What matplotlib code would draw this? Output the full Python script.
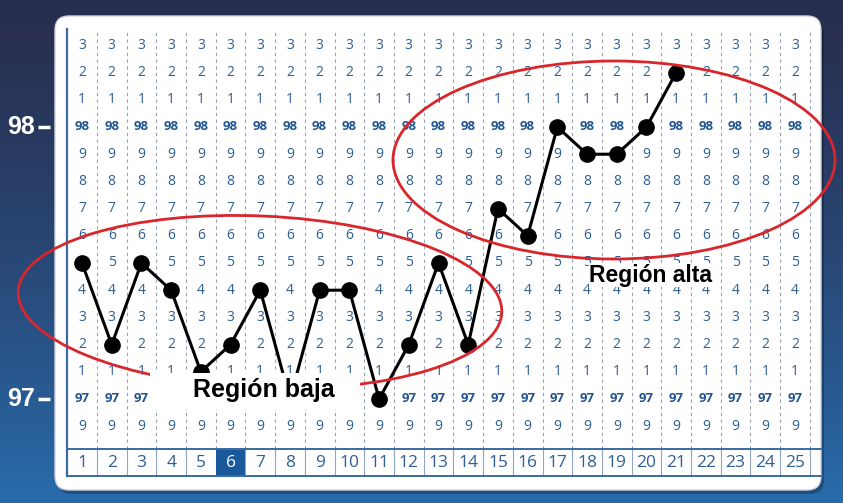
import numpy as np
import matplotlib.pyplot as plt
from matplotlib.patches import FancyBboxPatch, Rectangle, Ellipse

days = list(range(1, 26))
temp_days = list(range(1, 22))
temps = [97.5, 97.2, 97.5, 97.4, 97.1, 97.2, 97.4, 97.0, 97.4, 97.4, 97.0,
         97.2, 97.5, 97.2, 97.7, 97.6, 98.0, 97.9, 97.9, 98.0, 98.2]
row_values = [96.9, 97.0, 97.1, 97.2, 97.3, 97.4, 97.5, 97.6, 97.7, 97.8,
              97.9, 98.0, 98.1, 98.2, 98.3]
highlight_day = 6
low_label = 'Región baja'
high_label = 'Región alta'

W, H = 843, 503
fig = plt.figure(figsize=(W / 100, H / 100), dpi=100)

# background gradient + white panel (pixel coordinates)
bg = fig.add_axes([0, 0, 1, 1])
grad = np.linspace(0, 1, 256).reshape(-1, 1)
top = np.array([0.16, 0.18, 0.31])
bot = np.array([0.16, 0.42, 0.67])
img = top + (bot - top) * grad[..., None] ** 1.3
bg.imshow(img.reshape(256, 1, 3), extent=[0, W, H, 0], aspect='auto')
bg.set_xlim(0, W)
bg.set_ylim(H, 0)
bg.axis('off')
bg.add_patch(FancyBboxPatch((58, 20), 766, 474, boxstyle='round,pad=0,rounding_size=14',
                            fc='black', ec='none', alpha=0.25))
bg.add_patch(FancyBboxPatch((55, 16), 766, 474, boxstyle='round,pad=0,rounding_size=14',
                            fc='white', ec='#d0d4dc', lw=1))

# chart axes: x = day, y = temperature
ax = fig.add_axes([0, 0, 1, 1])
ax.patch.set_alpha(0)
ax.set_xlim(1 - 82 / 29.71, 1 + (W - 82) / 29.71)
ax.set_ylim(97.0 - (H - 399) / 272, 97.0 + 399 / 272)
ax.axis('off')

blue = '#2d5f96'
ytop = 98.36
yrow_top, yrow_bot = 96.815, 96.716
# white box behind the low-region label (days, degrees)
box_x0, box_x1, box_y0, box_y1 = 3.29, 10.36, 96.965, 97.096

for d in days:
    ax.plot([d + 0.5, d + 0.5], [yrow_top, ytop], color='#9aa3b5', lw=0.8,
            ls=(0, (3, 3)), zorder=1)
    ax.plot([d + 0.5, d + 0.5], [yrow_bot, yrow_top], color='#8fa6c4', lw=0.8, zorder=1)
    for v in row_values:
        if box_x0 < d < box_x1 and box_y0 < v < box_y1:
            continue  # hidden under the label box
        if abs(v - round(v)) < 1e-6:
            ax.text(d, v, str(int(round(v)) % 100), ha='center', va='center', fontsize=9.5,
                    fontweight='bold', color='#1f5490', family='Open Sans', zorder=2)
        else:
            ax.text(d, v, str(int(round(v * 10)) % 10), ha='center', va='center', fontsize=10,
                    color=blue, family='Open Sans', zorder=2)
    if d == highlight_day:
        ax.add_patch(Rectangle((d - 0.5, yrow_bot), 1, yrow_top - yrow_bot,
                               fc='#1a5a9c', ec='none', zorder=1.5))
    ax.text(d, (yrow_top + yrow_bot) / 2, str(d), ha='center', va='center', fontsize=12.5,
            color='white' if d == highlight_day else blue, family='Open Sans', zorder=2)

ax.plot([0.5, 0.5], [yrow_bot, ytop], color='#3a6aa0', lw=1.6, zorder=2)
ax.plot([0.5, 25.9], [yrow_top, yrow_top], color='#3a6aa0', lw=1.4, zorder=2)
ax.plot([0.5, 25.9], [yrow_bot, yrow_bot], color='#3a6aa0', lw=1.4, zorder=2)

# left scale labels
for v in [97.0, 98.0]:
    ax.text(-1.52, v, str(int(v) % 100), ha='left', va='center', fontsize=18,
            fontweight='bold', color='white', family='Liberation Sans')
    ax.plot([-0.48, -0.08], [v, v], color='white', lw=2.5, solid_capstyle='butt')

# temperature line
ax.plot(temp_days, temps, color='black', lw=2.2, marker='o', ms=11, zorder=4)

# red ellipses (pixel coordinates)
ax.add_patch(Ellipse((260, 302), 484, 172, angle=2.5, transform=bg.transData,
                     fill=False, ec='#d9262c', lw=2, zorder=5))
ax.add_patch(Ellipse((614, 160), 442, 198, angle=0, transform=bg.transData,
                     fill=False, ec='#d9262c', lw=2, zorder=5))

# labels
ax.add_patch(Rectangle((box_x0, box_y0), box_x1 - box_x0, box_y1 - box_y0,
                       fc='white', ec='none', zorder=6))
ax.text(7.12, 97.033, low_label, ha='center', va='center', fontsize=18, fontweight='bold',
        color='black', family='Liberation Sans', zorder=7)
ax.text(20.15, 97.455, high_label, ha='center', va='center', fontsize=16.5, fontweight='bold',
        color='black', family='Liberation Sans', zorder=7,
        bbox=dict(fc='white', ec='none', pad=0.3))

fig.savefig('out.png', dpi=100)
